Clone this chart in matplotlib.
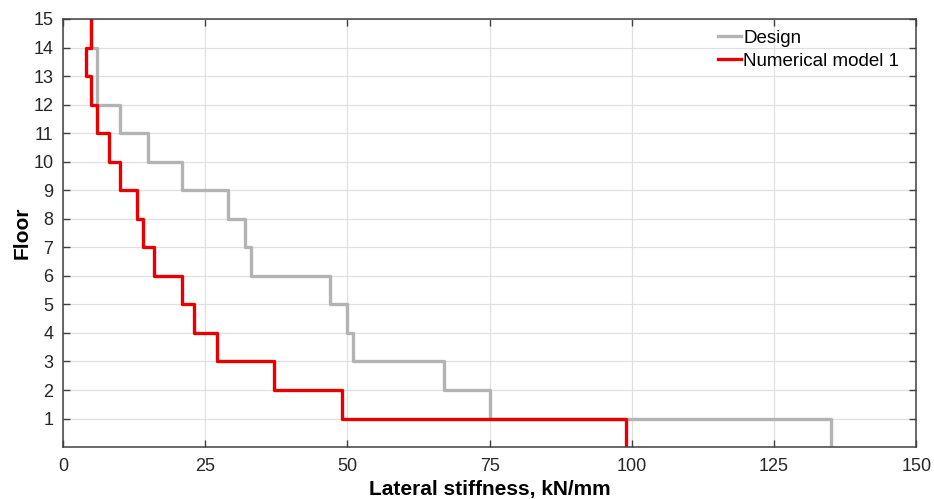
import numpy as np
import matplotlib.pyplot as plt

plt.rcParams['font.family'] = ['Liberation Sans', 'DejaVu Sans']

# stiffness per floor (floor 1 .. 15), kN/mm
floors = np.arange(1, 16)
design = [135, 75, 67, 51, 50, 47, 33, 32, 29, 21, 15, 10, 6, 6, 5]
model1 = [99, 49, 37, 27, 23, 21, 16, 14, 13, 10, 8, 6, 5, 4, 5]


def stair(vals):
    # each floor spans from (floor-1) to floor
    xs = np.repeat(vals, 2)
    ys = np.column_stack([floors - 1, floors]).ravel()
    return xs, ys


fig = plt.figure(figsize=(9.34, 4.99), dpi=100)
ax = fig.add_axes([0.0675, 0.104, 0.9135, 0.858])

x, y = stair(design)
ax.plot(x, y, color='#b3b3b3', lw=2.4, label='Design')
x, y = stair(model1)
ax.plot(x, y, color='#e80000', lw=2.4, label='Numerical model 1')

ax.set_xlim(0, 150)
ax.set_ylim(0, 15)
ax.set_xticks(np.arange(0, 151, 25))
ax.set_yticks(floors)
ax.grid(True, color='#e0e0e0', lw=0.9)
ax.set_axisbelow(True)
ax.tick_params(direction='in', top=True, right=True, length=5, width=1,
               color='#404040', labelsize=13, labelcolor='#262626')
ax.tick_params(axis='x', pad=8)
ax.tick_params(axis='y', pad=7)
for s in ax.spines.values():
    s.set_color('#404040')
    s.set_linewidth(1.1)

ax.set_xlabel('Lateral stiffness, kN/mm', fontsize=15, fontweight='bold', labelpad=3.5)
ax.set_ylabel('Floor', fontsize=15, fontweight='bold', labelpad=1)

ax.legend(loc='upper left', frameon=False, fontsize=13.5, handlelength=1.2,
          handletextpad=0.12, borderaxespad=0, borderpad=0, labelspacing=0.3,
          bbox_to_anchor=(0.768, 0.975))

fig.savefig('out.png', dpi=100)
